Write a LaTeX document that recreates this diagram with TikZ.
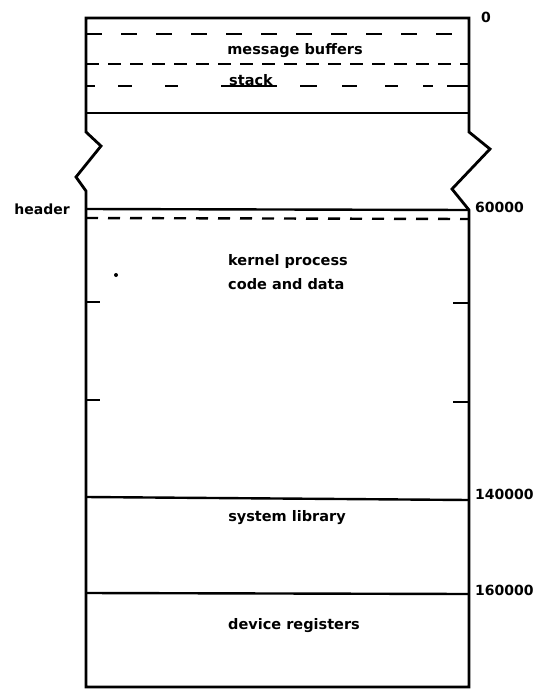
\documentclass[tikz,border=0pt]{standalone}
\usepackage{fontspec}
\setmainfont{DejaVu Sans}
\begin{document}
\begin{tikzpicture}[x=1pt,y=-1pt,
  edge/.style={line width=2.8pt,line join=miter},
  sep/.style={line width=2.4pt},
  dsep/.style={line width=2.4pt,dash pattern=on 15pt off 20pt},
  lbl/.style={font=\fontsize{14}{16}\selectfont\bfseries,inner sep=0pt},
  txt/.style={font=\fontsize{14.5}{17}\selectfont\bfseries,inner sep=0pt}]
\useasboundingbox (0,0) rectangle (541,689);
% outline
\draw[edge] (86,132) -- (86,18) -- (469,18) -- (469,132) -- (490,149) -- (452,189) -- (469,210) -- (469,687) -- (86,687) -- (86,191) -- (76,177) -- (101,146) -- cycle;
\draw[edge] (86,132) -- (86,113);
% top region separators
\draw[dsep,dash pattern=on 16pt off 19pt] (86,34) -- (469,34);
\draw[dsep,dash pattern=on 13pt off 9pt] (86,64) -- (469,64);
\draw[sep] (86,86) -- (95,86) (118,86) -- (132,86) (165,86) -- (178,86);
\draw[sep] (221,86) -- (277,86);
\draw[sep] (300,86) -- (317,86) (342,86) -- (357,86) (385,86) -- (398,86) (423,86) -- (433,86) (447,86) -- (469,86);
\draw[sep] (86,113) -- (469,113);
% header lines
\draw[sep] (86,209) -- (469,210);
\draw[dsep,dash pattern=on 12pt off 10pt] (86,218) -- (469,219);
% ticks
\draw[sep] (86,302) -- (100,302);
\draw[sep] (86,400) -- (100,400);
\draw[sep] (453,303) -- (469,303);
\draw[sep] (453,402) -- (469,402);
% region lines
\draw[sep] (86,497) -- (469,500);
\draw[sep] (86,593) -- (469,594);
% dot
\fill (116,275) circle (2pt);
% texts
\node[txt] (mb) at (295,51) {message buffers};
\node[txt,anchor=west] (st) at (229,80) {stack};
\node[txt,anchor=west] (k1) at (228,261) {kernel process};
\node[txt,anchor=west] (k2) at (228,284) {code and data};
\node[txt] (sl) at (287,518) {system library};
\node[txt] (dr) at (294,626) {device registers};
% address labels
\node[lbl,anchor=west] (a0) at (481,17) {0};
\node[lbl,anchor=east] (hd) at (70,209) {header};
\node[lbl,anchor=west] (a60) at (475,207) {60000};
\node[lbl,anchor=west] (a140) at (475,494) {140000};
\node[lbl,anchor=west] (a160) at (475,590) {160000};
\end{tikzpicture}
\end{document}
